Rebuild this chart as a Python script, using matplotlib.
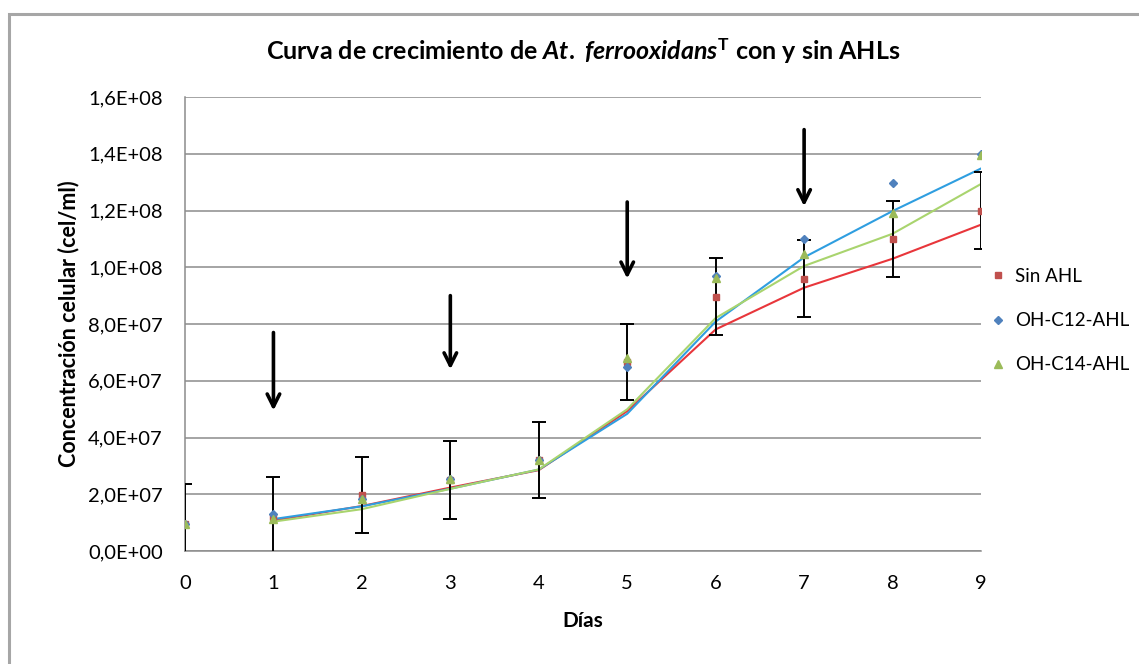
import numpy as np
import pandas as pd
import matplotlib
matplotlib.use('Agg')
from matplotlib import pyplot as plt
from matplotlib.patches import Rectangle

plt.rcParams['font.family'] = ['Lato', 'DejaVu Sans']
plt.rcParams['mathtext.fontset'] = 'custom'
plt.rcParams['mathtext.rm'] = 'Lato:bold'
plt.rcParams['mathtext.it'] = 'Lato:italic:bold'

dias = [0, 1, 2, 3, 4, 5, 6, 7, 8, 9]  # days
sin_ahl = [0.95e7, 1.2e7, 1.97e7, 2.5e7, 3.2e7, 6.66e7, 8.96e7, 9.6e7, 1.10e8, 1.2e8]
oh_c12 = [0.95e7, 1.3e7, 1.85e7, 2.54e7, 3.2e7, 6.47e7, 9.7e7, 1.10e8, 1.296e8, 1.40e8]
oh_c14 = [0.95e7, 1.12e7, 1.83e7, 2.55e7, 3.2e7, 6.79e7, 9.63e7, 1.046e8, 1.19e8, 1.397e8]
error_sin = [1.4e7, 1.4e7, 1.33e7, 1.37e7, 1.33e7, 1.35e7, 1.35e7, 1.35e7, 1.35e7, 1.35e7]

# arrows marking AHL additions
arrow_x = [1, 3, 5, 7]
arrow_top = [7.7e7, 9.0e7, 1.23e8, 1.485e8]
arrow_tip = [4.95e7, 6.4e7, 9.6e7, 1.215e8]

yticks = [0, 2e7, 4e7, 6e7, 8e7, 1e8, 1.2e8, 1.4e8, 1.6e8]
ytick_labels = ['0,0E+00', '2,0E+07', '4,0E+07', '6,0E+07', '8,0E+07',
                '1,0E+08', '1,2E+08', '1,4E+08', '1,6E+08']

fig = plt.figure(figsize=(11.39, 6.64), dpi=100)
ax = fig.add_axes([185 / 1139, 1 - 551 / 664, 796 / 1139, 454 / 664])

# chart area border
fig.patches.append(Rectangle((9 / 1139, -0.05), 1.1, 1 - 14 / 664 + 0.05, transform=fig.transFigure,
                             fill=False, edgecolor='#a6a6a6', lw=2.2))

series = [(sin_ahl, 's', '#c0504d', '#e8363b', 'Sin AHL', 5),
          (oh_c12, 'D', '#4f81bd', '#2f9ee0', 'OH-C12-AHL', 4.5),
          (oh_c14, '^', '#9bbb59', '#a9d46e', 'OH-C14-AHL', 6)]

for vals, mk, col, lcol, lab, ms in series:
    trend = pd.Series(vals).rolling(2).mean()  # 2 period moving average trendline
    ax.plot(dias, trend, color=lcol, lw=1.5, zorder=3)

ax.errorbar(dias, sin_ahl, yerr=error_sin, fmt='none', ecolor='black', elinewidth=1.4,
            capsize=5, capthick=1.4, zorder=4)

for vals, mk, col, lcol, lab, ms in series:
    ax.plot(dias, vals, linestyle='none', marker=mk, color=col, markersize=ms, label=lab, zorder=5)

for x, top, tip in zip(arrow_x, arrow_top, arrow_tip):
    ax.annotate('', xy=(x, tip), xytext=(x, top),
                arrowprops=dict(arrowstyle='->, head_length=0.9, head_width=0.45', color='black', lw=2.6,
                                shrinkA=0, shrinkB=0))

ax.set_xlim(0, 9)
ax.set_ylim(0, 1.6e8)
ax.set_xticks(dias)
ax.set_yticks(yticks)
ax.set_yticklabels(ytick_labels)
ax.tick_params(length=0, labelsize=14.5)
ax.tick_params(axis='y', pad=16)
ax.tick_params(axis='x', pad=17)
ax.grid(axis='y', color='#8c8c8c', lw=1.1)
ax.set_axisbelow(True)
for s in ['top', 'right']:
    ax.spines[s].set_visible(False)
for s in ['left', 'bottom']:
    ax.spines[s].set_color('#8c8c8c')
    ax.spines[s].set_linewidth(1.1)

ax.set_title('Curva de crecimiento de $At.$ $ferrooxidans^{\\mathrm{T}}$ con y sin AHLs',
             fontsize=18, fontweight='bold', pad=27)
ax.set_xlabel('Días', fontsize=15, fontweight='bold', labelpad=14)
ax.set_ylabel('Concentración celular (cel/ml)', fontsize=15.5, fontweight='bold', labelpad=6)

ax.legend(loc='upper left', bbox_to_anchor=(974 / 1139, 1 - 251 / 664), bbox_transform=fig.transFigure,
          frameon=False, fontsize=13.5, labelspacing=1.45, handlelength=0.8, handletextpad=0.5,
          markerscale=0.9)

fig.savefig('out.png', dpi=100)
